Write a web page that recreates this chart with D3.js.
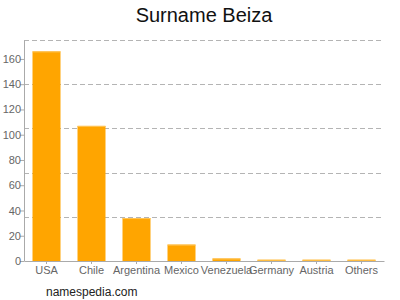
<!DOCTYPE html>
<html>
<head>
<meta charset="utf-8">
<script src="https://cdn.jsdelivr.net/npm/d3@7"></script>
<style>
  body { margin: 0; background: #fff; }
  text { font-family: "Liberation Sans", Arial, sans-serif; }
</style>
</head>
<body>
<svg id="chart" width="400" height="300"></svg>
<script>
// data
let countries = ["USA", "Chile", "Argentina", "Mexico", "Venezuela", "Germany", "Austria", "Others"]
let counts = [166, 107, 34, 13, 2, 1, 1, 1]
let yTicks = [0, 20, 40, 60, 80, 100, 120, 140, 160]
let gridValues = [35, 70, 105, 140, 175]

let svg = d3.select("#chart")

let margin = { top: 40, right: 16, bottom: 39, left: 24 }
let width = 400 - margin.left - margin.right
let height = 300 - margin.top - margin.bottom

let xScale = d3.scaleBand()
    .domain(countries)
    .range([0, width])
    .paddingInner(0.378)
    .paddingOuter(0.189)

let yScale = d3.scaleLinear()
    .domain([0, 175])
    .range([height, 0])

let g = svg.append("g")
    .attr("transform", "translate(" + margin.left + "," + margin.top + ")")

// dashed grid
g.selectAll(".grid")
    .data(gridValues)
    .enter().append("line")
        .attr("x1", 0)
        .attr("x2", width)
        .attr("y1", d => Math.round(yScale(d)) + 0.5)
        .attr("y2", d => Math.round(yScale(d)) + 0.5)
        .style("stroke", "#b4b4b4")
        .style("stroke-dasharray", "5,3")

// bars
let data = countries.map((c, i) => ({ name: c, value: counts[i] }))

g.selectAll(".bar")
    .data(data)
    .enter().append("rect")
        .attr("x", d => xScale(d.name))
        .attr("y", d => yScale(d.value))
        .attr("width", xScale.bandwidth())
        .attr("height", d => height - yScale(d.value))
        .style("fill", "#ffa500")

g.selectAll(".bar-top")
    .data(data)
    .enter().append("rect")
        .attr("x", d => xScale(d.name))
        .attr("y", d => yScale(d.value))
        .attr("width", xScale.bandwidth())
        .attr("height", 1)
        .style("fill", "#ffc55a")

let yAxis = d3.axisLeft(yScale)
    .tickValues(yTicks)
    .tickSize(4)
    .tickSizeOuter(0)

let xAxis = d3.axisBottom(xScale)
    .tickSize(3)
    .tickSizeOuter(0)

let gY = g.append("g").call(yAxis)
let gX = g.append("g")
    .attr("transform", "translate(0," + height + ")")
    .call(xAxis)

;[gX, gY].forEach(a => {
    a.selectAll("path, line").style("stroke", "#aaa")
    a.selectAll("text")
        .style("fill", "#666")
        .style("font-size", "11px")
        .style("font-family", "'Liberation Sans', Arial, sans-serif")
})
gY.selectAll("text").attr("x", -3)
gX.selectAll("text").attr("y", 5)

svg.append("text")
    .attr("x", 204)
    .attr("y", 22)
    .style("text-anchor", "middle")
    .style("font-size", "20px")
    .style("fill", "#111")
    .text("Surname Beiza")

svg.append("text")
    .attr("x", 46)
    .attr("y", 296)
    .style("font-size", "12px")
    .style("fill", "#222")
    .text("namespedia.com")
</script>
</body>
</html>
